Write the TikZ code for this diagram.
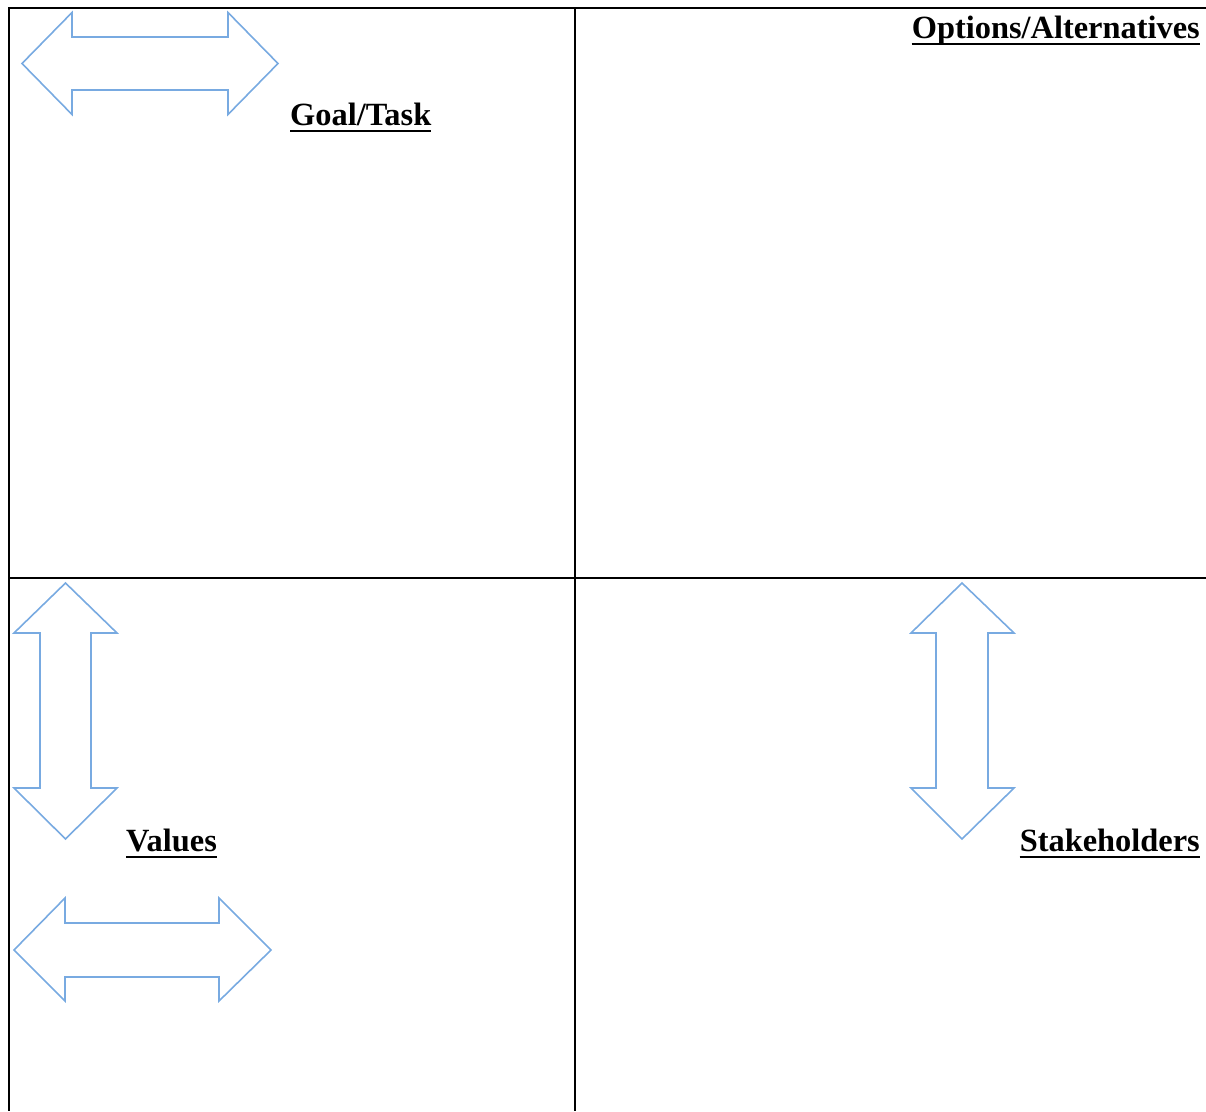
\documentclass[tikz,border=0pt]{standalone}
\usepackage{fontspec}
\setmainfont{Liberation Serif}
\definecolor{arrowblue}{RGB}{120,170,225}
\tikzset{
  gridline/.style={line width=2pt, black},
  arrowshape/.style={draw=arrowblue, line width=1.6pt, line join=miter},
  heading/.style={inner sep=0pt, font=\bfseries\fontsize{32.4}{38}\selectfont, anchor=base west},
  uline/.style={line width=2.4pt, black}
}
\begin{document}
\begin{tikzpicture}[x=1pt,y=-1pt]
\useasboundingbox (0,0) rectangle (1206,1111);
% table grid
\coordinate (tl) at (9,8);
\coordinate (tr) at (1206,8);
\coordinate (bl) at (9,1111);
\coordinate (mt) at (575,8);
\coordinate (mb) at (575,1111);
\coordinate (ml) at (9,578);
\coordinate (mr) at (1206,578);
\draw[gridline] (tr) -- (tl) -- (bl);
\draw[gridline] (mt) -- (mb);
\draw[gridline] (ml) -- (mr);
% arrows
\draw[arrowshape] (22,63.5) -- (72,12.5) -- (72,37) -- (228,37) -- (228,12.5) -- (278,63.5) -- (228,114.5) -- (228,90) -- (72,90) -- (72,114.5) -- cycle;
\draw[arrowshape] (14,950) -- (65,898) -- (65,923) -- (219,923) -- (219,898) -- (271,950) -- (219,1001) -- (219,977) -- (65,977) -- (65,1001) -- cycle;
\draw[arrowshape] (65.5,583) -- (117,633) -- (91,633) -- (91,788) -- (117,788) -- (65.5,839) -- (14,788) -- (40,788) -- (40,633) -- (14,633) -- cycle;
\draw[arrowshape] (962,583) -- (1014,633) -- (988,633) -- (988,788) -- (1014,788) -- (962,839) -- (911,788) -- (936,788) -- (936,633) -- (911,633) -- cycle;
% headings
\node[heading] (goal) at (290,125.5) {Goal/Task};
\node[heading, anchor=base east] (opt) at (1200,38.5) {Options/Alternatives};
\node[heading] (val) at (126,851.5) {Values};
\node[heading, anchor=base east] (stake) at (1200,851.5) {Stakeholders};
\foreach \n in {goal,opt,val,stake}{
  \draw[uline] ([yshift=-5.5pt]\n.base west) -- ([yshift=-5.5pt]\n.base east);
}
\end{tikzpicture}
\end{document}
